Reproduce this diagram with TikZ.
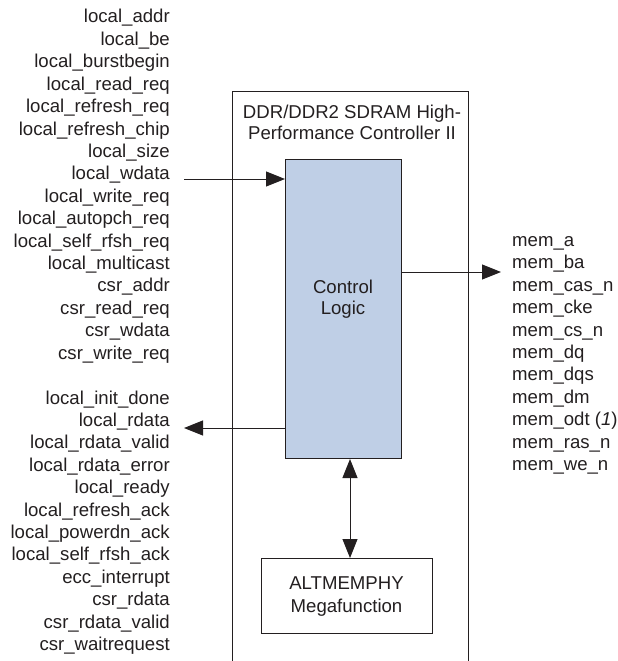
\documentclass[tikz,border=0pt]{standalone}
\usepackage{fontspec}
\setmainfont{Liberation Sans}
\usetikzlibrary{arrows.meta}
\definecolor{ink}{HTML}{231F20}
\definecolor{ctrlfill}{HTML}{BFCFE6}
\tikzset{
  sig/.style={font=\fontsize{18.6}{22.4}\selectfont, text=ink, inner sep=0pt},
  arr/.style={draw=ink, line width=1pt, -{Triangle[length=19pt,width=15pt]}},
  biarr/.style={draw=ink, line width=1pt, {Triangle[length=19pt,width=15pt]}-{Triangle[length=19pt,width=15pt]}},
  blk/.style={draw=ink, line width=1pt, inner sep=0pt, anchor=north west},
}
\begin{document}
\begin{tikzpicture}[x=1pt,y=-1pt]
\useasboundingbox (0,0) rectangle (618,661);
% outer (open) controller box
\coordinate (obl) at (232,661);
\coordinate (otl) at (232,91);
\coordinate (otr) at (468,91);
\coordinate (obr) at (468,661);
\draw[ink, line width=1pt] (obl) -- (otl) -- (otr) -- (obr);
\node[sig, anchor=base] (title1) at (352,118.5) {DDR/DDR2 SDRAM High-};
\node[sig, anchor=base] (title2) at (352,139.5) {Performance Controller II};
% control logic
\node[blk, fill=ctrlfill, minimum width=116pt, minimum height=299pt] (ctrl) at (285,159) {};
\node[sig, anchor=base] (ctl1) at (343,293.5) {Control};
\node[sig, anchor=base] (ctl2) at (343,314.5) {Logic};
% ALTMEMPHY
\node[blk, fill=white, minimum width=171pt, minimum height=75pt] (phy) at (261,558) {};
\node[sig, anchor=base] (phy1) at (346.5,589.5) {ALTMEMPHY};
\node[sig, anchor=base] (phy2) at (346.5,612) {Megafunction};
% left inputs
\foreach \t [count=\i from 0] in {local\_addr,local\_be,local\_burstbegin,local\_read\_req,local\_refresh\_req,local\_refresh\_chip,local\_size,local\_wdata,local\_write\_req,local\_autopch\_req,local\_self\_rfsh\_req,local\_multicast,csr\_addr,csr\_read\_req,csr\_wdata,csr\_write\_req}
  \node[sig, anchor=base east] (in\i) at (170,{23+22.4*\i}) {\t};
% left outputs
\foreach \t [count=\i from 0] in {local\_init\_done,local\_rdata,local\_rdata\_valid,local\_rdata\_error,local\_ready,local\_refresh\_ack,local\_powerdn\_ack,local\_self\_rfsh\_ack,ecc\_interrupt,csr\_rdata,csr\_rdata\_valid,csr\_waitrequest}
  \node[sig, anchor=base east] (out\i) at (170,{404+22.4*\i}) {\t};
% right memory signals
\foreach \t [count=\i from 0] in {mem\_a,mem\_ba,mem\_cas\_n,mem\_cke,mem\_cs\_n,mem\_dq,mem\_dqs,mem\_dm,{mem\_odt (\textit{1})},mem\_ras\_n,mem\_we\_n}
  \node[sig, anchor=base west] (mem\i) at (512,{246.5+22.4*\i}) {\t};
% connectors
\coordinate (inS) at (184,179);
\coordinate (outE) at (184,428);
\coordinate (memE) at (501,272);
\coordinate (bx) at (350,0);
\draw[arr] (inS) -- (inS -| ctrl.west);
\draw[arr] (outE -| ctrl.west) -- (outE);
\draw[arr] (memE -| ctrl.east) -- (memE);
\draw[biarr] (bx |- ctrl.south) -- (bx |- phy.north);
\end{tikzpicture}
\end{document}
